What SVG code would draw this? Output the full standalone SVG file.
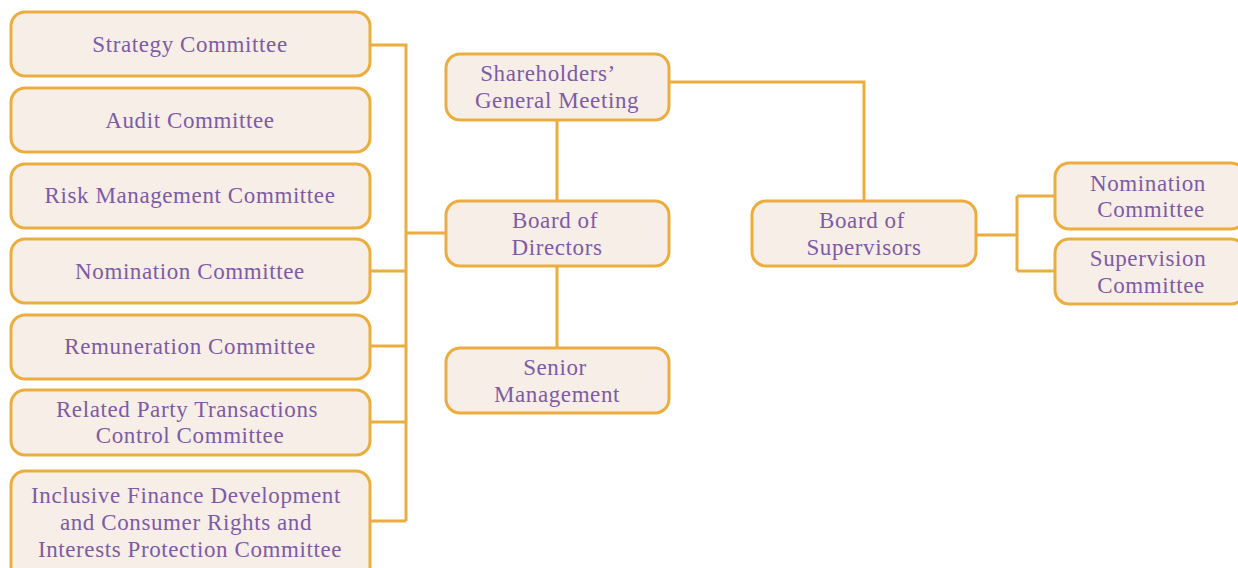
<svg xmlns="http://www.w3.org/2000/svg" width="1238" height="568" viewBox="0 0 1238 568">
<style>
.box{fill:#F7EEE8;stroke:#ECAD3F;stroke-width:3}
.t{font-family:"Liberation Serif","DejaVu Serif",serif;font-size:23px;letter-spacing:0.6px;fill:#7D5BA6;text-anchor:middle}
.c{fill:none;stroke:#ECAD3F;stroke-width:3}
</style>
<rect width="1238" height="568" fill="#FFFFFF"/>
<g id="connectors">
<path class="c" d="M370 45H406V521M370 271H406M370 346H406M370 422H406M370 521H406M406 233H446"/>
<path class="c" d="M557 120V201M557 266V348"/>
<path class="c" d="M669 82H864V201"/>
<path class="c" d="M976 235H1017M1017 196V271M1017 196H1055M1017 271H1055"/>
</g>
<g id="strategy"><rect class="box" x="11" y="12" width="359" height="64" rx="14"/><text class="t" x="190" y="52">Strategy Committee</text></g>
<g id="audit"><rect class="box" x="11" y="88" width="359" height="64" rx="14"/><text class="t" x="190" y="128">Audit Committee</text></g>
<g id="risk"><rect class="box" x="11" y="164" width="359" height="64" rx="14"/><text class="t" x="190" y="203">Risk Management Committee</text></g>
<g id="nomination"><rect class="box" x="11" y="239" width="359" height="64" rx="14"/><text class="t" x="190" y="279">Nomination Committee</text></g>
<g id="remuneration"><rect class="box" x="11" y="315" width="359" height="64" rx="14"/><text class="t" x="190" y="354">Remuneration Committee</text></g>
<g id="related"><rect class="box" x="11" y="390" width="359" height="65" rx="14"/><text class="t" x="187" y="417">Related Party Transactions</text><text class="t" x="190" y="443">Control Committee</text></g>
<g id="inclusive"><rect class="box" x="11" y="471" width="359" height="110" rx="14"/><text class="t" x="186" y="503">Inclusive Finance Development</text><text class="t" x="186" y="530">and Consumer Rights and</text><text class="t" x="190" y="557">Interests Protection Committee</text></g>
<g id="shareholders"><rect class="box" x="446" y="54" width="223" height="66" rx="14"/><text class="t" x="548" y="81">Shareholders’</text><text class="t" x="557" y="108">General Meeting</text></g>
<g id="board-directors"><rect class="box" x="446" y="201" width="223" height="65" rx="14"/><text class="t" x="555" y="228">Board of</text><text class="t" x="557" y="255">Directors</text></g>
<g id="senior-management"><rect class="box" x="446" y="348" width="223" height="65" rx="14"/><text class="t" x="555" y="375">Senior</text><text class="t" x="557" y="402">Management</text></g>
<g id="board-supervisors"><rect class="box" x="752" y="201" width="224" height="65" rx="14"/><text class="t" x="862" y="228">Board of</text><text class="t" x="864" y="255">Supervisors</text></g>
<g id="sup-nomination"><rect class="box" x="1055" y="163" width="190" height="66" rx="14"/><text class="t" x="1148" y="191">Nomination</text><text class="t" x="1151" y="217">Committee</text></g>
<g id="sup-supervision"><rect class="box" x="1055" y="239" width="190" height="65" rx="14"/><text class="t" x="1148" y="266">Supervision</text><text class="t" x="1151" y="293">Committee</text></g>
</svg>
